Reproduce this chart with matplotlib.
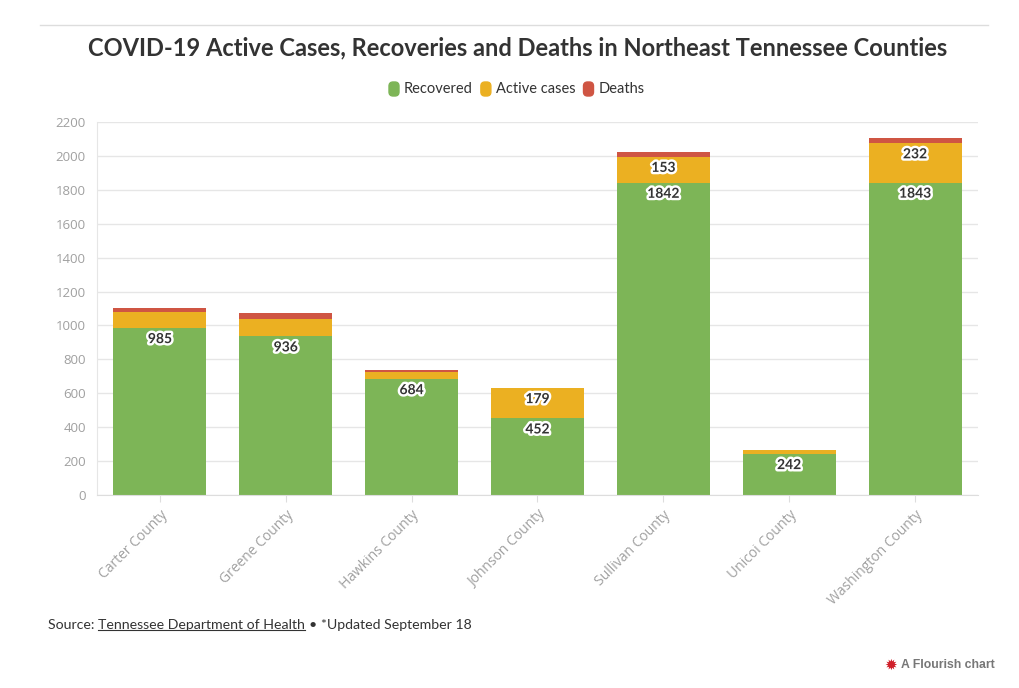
import matplotlib.pyplot as plt
import matplotlib.patheffects as pe
import matplotlib.transforms as mtransforms
from matplotlib.lines import Line2D
from matplotlib.patches import FancyBboxPatch
import numpy as np

counties = ['Carter County', 'Greene County', 'Hawkins County', 'Johnson County',
            'Sullivan County', 'Unicoi County', 'Washington County']
recovered = [985, 936, 684, 452, 1842, 242, 1843]
active = [95, 102, 42, 179, 153, 22, 232]
deaths = [23, 36, 11, 0, 28, 2, 31]

# labels shown in the chart (active only where the segment is big enough)
active_shown = [False, False, False, True, True, False, True]

green = '#7db557'
yellow = '#ebb022'
red = '#cf5543'
grey_text = '#a0a0a0'
dark = '#333333'

plt.rcParams['font.family'] = ['Lato', 'DejaVu Sans']

fig = plt.figure(figsize=(10.2, 6.88), dpi=100)
ax = fig.add_axes([97 / 1020, 1 - 495 / 688, 881 / 1020, 373 / 688])

x = np.arange(len(counties))
rec = np.array(recovered)
act = np.array(active)
dth = np.array(deaths)
width = 0.74

ax.bar(x, rec, width, color=green, zorder=2)
ax.bar(x, act, width, bottom=rec, color=yellow, zorder=2)
ax.bar(x, dth, width, bottom=rec + act, color=red, zorder=2)

label_fx = [pe.withStroke(linewidth=3.5, foreground='white')]
for i in range(len(counties)):
    ax.annotate(str(recovered[i]), (x[i], rec[i]), xytext=(0, -8),
                textcoords='offset points', ha='center', va='center',
                fontsize=10, fontweight='bold', color=dark,
                path_effects=label_fx, zorder=4)
    if active_shown[i]:
        ax.annotate(str(active[i]), (x[i], rec[i] + act[i]), xytext=(0, -8),
                    textcoords='offset points', ha='center', va='center',
                    fontsize=10, fontweight='bold', color=dark,
                    path_effects=label_fx, zorder=4)

ax.set_xlim(-0.5, len(counties) - 0.5)
ax.set_ylim(0, 2200)
ax.set_yticks(range(0, 2201, 200))
ax.grid(axis='y', color='#e6e6e6', linewidth=1, zorder=0)
ax.set_xticks(x)
ax.set_xticklabels(counties, rotation=45, ha='right', rotation_mode='anchor',
                   family=['Open Sans', 'DejaVu Sans'])
shift = mtransforms.ScaledTranslation(4 / 100, 3 / 100, fig.dpi_scale_trans)
for lab in ax.get_xticklabels():
    lab.set_transform(lab.get_transform() + shift)
ax.tick_params(axis='x', colors='#dddddd', labelcolor=grey_text, labelsize=10,
               length=5, pad=4)
ax.tick_params(axis='y', length=0, labelcolor=grey_text, labelsize=10, pad=8)
for lab in ax.get_yticklabels():
    lab.set_family(['Open Sans', 'DejaVu Sans'])
    lab.set_fontsize(9.5)
for s in ['top', 'right']:
    ax.spines[s].set_visible(False)
ax.spines['left'].set_color('#e6e6e6')
ax.spines['bottom'].set_color('#dddddd')

# header rule and title
fig.add_artist(Line2D([40 / 1020, 988 / 1020], [1 - 25 / 688] * 2,
                      color='#dddddd', linewidth=1))
fig.text(518 / 1020, 1 - 48 / 688, 'COVID-19 Active Cases, Recoveries and Deaths in Northeast Tennessee Counties',
         ha='center', va='center', fontsize=17, fontweight='bold', color=dark)

# legend
renderer = fig.canvas.get_renderer()
leg_items = [('Recovered', green), ('Active cases', yellow), ('Deaths', red)]
lx = 389
ly = 89
for name, col in leg_items:
    fig.add_artist(FancyBboxPatch((lx / 1020, (688 - ly - 7) / 688), 10 / 1020, 14 / 688,
                                  boxstyle='round,pad=0,rounding_size=0.004',
                                  transform=fig.transFigure, color=col,
                                  mutation_aspect=1020 / 688))
    t = fig.text((lx + 15) / 1020, 1 - ly / 688, name, ha='left', va='center',
                 fontsize=10.5, color=dark)
    bb = t.get_window_extent(renderer)
    lx = bb.x1 + 8

# source line with underlined link text
sy = 1 - 625 / 688
t1 = fig.text(48 / 1020, sy, 'Source: ', ha='left', va='center', fontsize=10.2, color=dark)
b1 = t1.get_window_extent(renderer)
t2 = fig.text(b1.x1 / 1020, sy, 'Tennessee Department of Health', ha='left', va='center',
              fontsize=10.2, color=dark)
b2 = t2.get_window_extent(renderer)
fig.add_artist(Line2D([b2.x0 / 1020, b2.x1 / 1020], [(b2.y0 + 1) / 688] * 2,
                      color=dark, linewidth=0.8))
fig.text((b2.x1 + 4) / 1020, sy, '\u2022 *Updated September 18', ha='left', va='center',
         fontsize=10.2, color=dark)

# flourish credit
fig.text(891 / 1020, 1 - 665 / 688, '\u2739', ha='center', va='center',
         fontsize=11, color='#d0202a', family='DejaVu Sans')
fig.text(901 / 1020, 1 - 665 / 688, 'A Flourish chart', ha='left', va='center',
         fontsize=8.8, fontweight='bold', color='#777777', family='Liberation Sans')

fig.savefig('out.png', dpi=100)
